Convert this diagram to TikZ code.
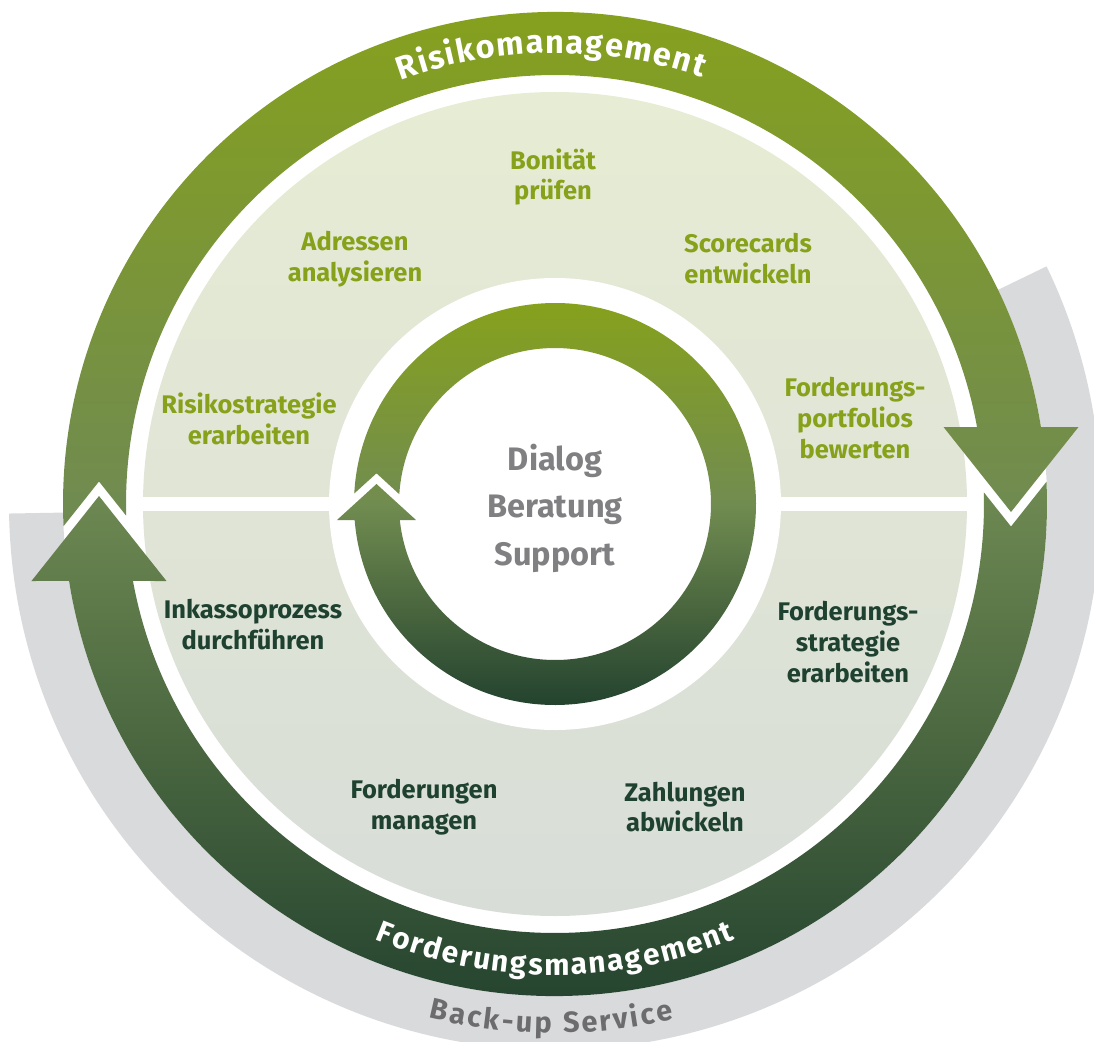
\documentclass[tikz,border=0pt]{standalone}
\usepackage{fontspec}
\setmainfont{Fira Sans}
\usepackage{tikz}
\usetikzlibrary{positioning, decorations.text}
\definecolor{RiskOlive}{HTML}{87A21A}
\definecolor{MidGreen}{HTML}{6F8A52}
\definecolor{InnerMid}{HTML}{718C50}
\definecolor{ForestDark}{HTML}{21402D}
\definecolor{ArcGray}{HTML}{D9DADC}
\definecolor{ServiceGray}{HTML}{6C6C6F}
\definecolor{CoreGray}{HTML}{808083}
\definecolor{LabelDark}{HTML}{1F4130}
\definecolor{FillTop}{HTML}{E7ECD4}
\definecolor{FillBottom}{HTML}{D8DDD8}

\begin{document}
\begin{tikzpicture}[x=0.02cm, y=0.02cm,
    risklabel/.style={align=center, inner sep=0pt, text=RiskOlive,
        font=\bfseries\fontsize{14.5}{17.6}\selectfont},
    claimlabel/.style={risklabel, text=LabelDark},
    corelabel/.style={align=center, inner sep=0pt, text=CoreGray,
        font=\bfseries\fontsize{18.5}{27}\selectfont},
    ringtext/.style={decorate, decoration={text along path, text align=fit to path,
        text color=#1}},
    ringtext/.default=white]
    \useasboundingbox (-555,-537) rectangle (539,504);

    % Back-up band
    \fill[ArcGray] (181:546) arc[start angle=181, end angle=385.8, radius=546]
        -- (385.8:492) arc[start angle=385.8, end angle=181, radius=492] -- cycle;

    % Inner field and dividers
    \shade[top color=FillTop, bottom color=FillBottom] (0,0) circle[radius=412];
    \fill[white] (-420,-7) rectangle (420,7);
    \fill[white] (0,0) circle[radius=226];

    % Outer cycle: Risikomanagement (top) and Forderungsmanagement (bottom)
    \shade[top color=RiskOlive, bottom color=MidGreen]
        (182.59:492) -- (-456,22.5) -- (181.56:429)
        arc[start angle=181.56, end angle=10.34, radius=429]
        -- (388.5,77) -- (456,-8) -- (523.5,77) -- (9.0:492)
        arc[start angle=9.0, end angle=182.59, radius=492] -- cycle;
    \shade[top color=MidGreen, bottom color=ForestDark]
        (2.59:492) -- (456,-22.5) -- (1.56:429)
        arc[start angle=1.56, end angle=-169.66, radius=429]
        -- (-388.5,-77) -- (-456,8) -- (-523.5,-77) -- (-171.0:492)
        arc[start angle=-171.0, end angle=2.59, radius=492] -- cycle;

    % Inner cycle
    \shade[top color=RiskOlive, bottom color=ForestDark, middle color=InnerMid]
        (177.0:201) -- (-178.5,30.7) -- (176.4:156)
        arc[start angle=176.4, end angle=-174.11, radius=156]
        -- (-139,-16) -- (-178.5,20) -- (-218,-16) -- (-175.43:201)
        arc[start angle=-175.43, end angle=177.0, radius=201] -- cycle;

    % Ring titles
    \path[ringtext, decoration={text={|\bfseries\fontsize{18.5}{18.5}\selectfont|Risikomanagement}}]
        (110:451) arc[start angle=110, end angle=71, radius=451];
    \path[ringtext, decoration={text={|\bfseries\fontsize{17}{17}\selectfont|Forderungsmanagement}}]
        (-112.5:471) arc[start angle=-112.5, end angle=-67.5, radius=471];
    \path[ringtext=ServiceGray, decoration={text={|\bfseries\fontsize{16.5}{16.5}\selectfont|Back-up Service}}]
        (-103.8:529) arc[start angle=-103.8, end angle=-77, radius=529];

    % Risk tasks
    \node[risklabel] (bonitaet) at (-2,327) {Bonität\\prüfen};
    \node[risklabel] (adressen) at (-200,245) {Adressen\\analysieren};
    \node[risklabel] (scorecards) at (193,245) {Scorecards\\entwickeln};
    \node[risklabel] (strategie) at (-306,85) {Risikostrategie\\erarbeiten};
    \node[risklabel] (portfolios) at (300,86) {Forderungs-\\portfolios\\bewerten};

    % Claim tasks
    \node[claimlabel] (inkasso) at (-302,-121) {Inkassoprozess\\durchführen};
    \node[claimlabel] (fstrategie) at (293,-138) {Forderungs-\\strategie\\erarbeiten};
    \node[claimlabel] (managen) at (-131,-303) {Forderungen\\managen};
    \node[claimlabel] (zahlungen) at (130,-303) {Zahlungen\\abwickeln};

    % Core
    \node[corelabel] (core) at (0,-4) {Dialog\\Beratung\\Support};
\end{tikzpicture}
\end{document}
